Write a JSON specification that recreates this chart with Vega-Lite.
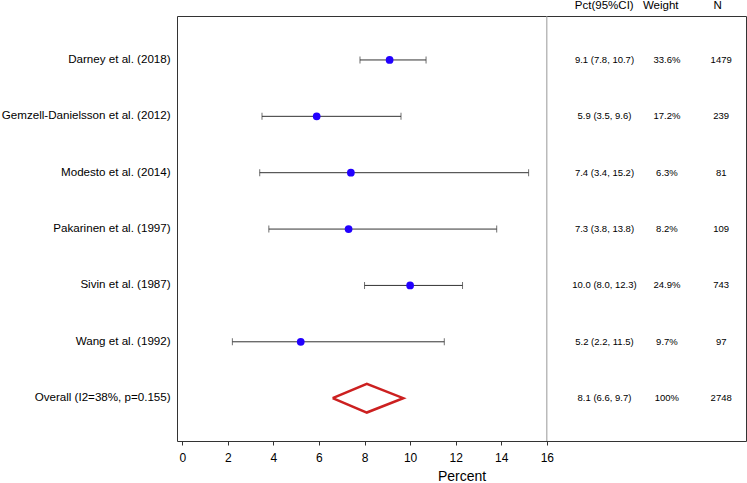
{
  "$schema": "https://vega.github.io/schema/vega-lite/v6.json",
  "width": 569,
  "height": 425,
  "autosize": {"type": "none"},
  "padding": {"left": 177, "top": 16, "right": 1, "bottom": 42},
  "background": "white",
  "config": {
    "font": "Liberation Sans",
    "view": {"stroke": "#333333", "strokeWidth": 1},
    "axisX": {
      "domain": false,
      "grid": false,
      "tickSize": 4,
      "tickColor": "#333333",
      "labelColor": "#000000",
      "labelFontSize": 12,
      "labelPadding": 7,
      "titleFontSize": 14,
      "titleFontWeight": "normal",
      "titleColor": "#000000",
      "titlePadding": 6
    }
  },
  "datasets": {
    "studies": [
      {"study": "Darney et al. (2018)", "row": 1, "est": 9.1, "lo": 7.8, "hi": 10.7, "pct": "9.1 (7.8, 10.7)", "weight": "33.6%", "n": "1479", "kind": "study"},
      {"study": "Gemzell-Danielsson et al. (2012)", "row": 2, "est": 5.9, "lo": 3.5, "hi": 9.6, "pct": "5.9 (3.5, 9.6)", "weight": "17.2%", "n": "239", "kind": "study"},
      {"study": "Modesto et al. (2014)", "row": 3, "est": 7.4, "lo": 3.4, "hi": 15.2, "pct": "7.4 (3.4, 15.2)", "weight": "6.3%", "n": "81", "kind": "study"},
      {"study": "Pakarinen et al. (1997)", "row": 4, "est": 7.3, "lo": 3.8, "hi": 13.8, "pct": "7.3 (3.8, 13.8)", "weight": "8.2%", "n": "109", "kind": "study"},
      {"study": "Sivin et al. (1987)", "row": 5, "est": 10.0, "lo": 8.0, "hi": 12.3, "pct": "10.0 (8.0, 12.3)", "weight": "24.9%", "n": "743", "kind": "study"},
      {"study": "Wang et al. (1992)", "row": 6, "est": 5.2, "lo": 2.2, "hi": 11.5, "pct": "5.2 (2.2, 11.5)", "weight": "9.7%", "n": "97", "kind": "study"},
      {"study": "Overall (I2=38%, p=0.155)", "row": 7, "est": 8.1, "lo": 6.6, "hi": 9.7, "pct": "8.1 (6.6, 9.7)", "weight": "100%", "n": "2748", "kind": "overall"}
    ],
    "diamond": [
      {"x": 6.6, "y": 7.0, "o": 1},
      {"x": 8.1, "y": 6.745, "o": 2},
      {"x": 9.7, "y": 7.0, "o": 3},
      {"x": 8.1, "y": 7.255, "o": 4},
      {"x": 6.6, "y": 7.0, "o": 5}
    ],
    "ref": [{"v": 16}],
    "headers": [
      {"h": "Pct(95%CI)", "col": "pct"},
      {"h": "Weight", "col": "weight"},
      {"h": "N", "col": "n"}
    ]
  },
  "layer": [
    {
      "data": {"name": "ref"},
      "mark": {"type": "rule", "color": "#999999", "strokeWidth": 1},
      "encoding": {
        "x": {"field": "v", "type": "quantitative", "title": "Percent", "axis": {"values": [0, 2, 4, 6, 8, 10, 12, 14, 16]}, "scale": {"domain": [-0.23, 24.74], "nice": false, "zero": false}}
      }
    },
    {
      "data": {"name": "studies"},
      "transform": [{"filter": "datum.kind === 'study'"}],
      "mark": {"type": "rule", "color": "#333333", "strokeWidth": 1},
      "encoding": {
        "x": {"field": "lo", "type": "quantitative", "title": "Percent", "axis": {"values": [0, 2, 4, 6, 8, 10, 12, 14, 16]}, "scale": {"domain": [-0.23, 24.74], "nice": false, "zero": false}},
        "x2": {"field": "hi"},
        "y": {"field": "row", "type": "quantitative", "axis": null, "scale": {"domain": [0.22, 7.76], "reverse": true, "nice": false, "zero": false}}
      }
    },
    {
      "data": {"name": "studies"},
      "transform": [{"filter": "datum.kind === 'study'"}],
      "mark": {"type": "tick", "orient": "vertical", "color": "#333333", "size": 7, "thickness": 1},
      "encoding": {
        "x": {"field": "lo", "type": "quantitative", "title": "Percent", "axis": {"values": [0, 2, 4, 6, 8, 10, 12, 14, 16]}, "scale": {"domain": [-0.23, 24.74], "nice": false, "zero": false}},
        "y": {"field": "row", "type": "quantitative", "axis": null, "scale": {"domain": [0.22, 7.76], "reverse": true, "nice": false, "zero": false}}
      }
    },
    {
      "data": {"name": "studies"},
      "transform": [{"filter": "datum.kind === 'study'"}],
      "mark": {"type": "tick", "orient": "vertical", "color": "#333333", "size": 7, "thickness": 1},
      "encoding": {
        "x": {"field": "hi", "type": "quantitative", "title": "Percent", "axis": {"values": [0, 2, 4, 6, 8, 10, 12, 14, 16]}, "scale": {"domain": [-0.23, 24.74], "nice": false, "zero": false}},
        "y": {"field": "row", "type": "quantitative", "axis": null, "scale": {"domain": [0.22, 7.76], "reverse": true, "nice": false, "zero": false}}
      }
    },
    {
      "data": {"name": "studies"},
      "transform": [{"filter": "datum.kind === 'study'"}],
      "mark": {"type": "circle", "color": "#2200ff", "opacity": 1, "size": 60},
      "encoding": {
        "x": {"field": "est", "type": "quantitative", "title": "Percent", "axis": {"values": [0, 2, 4, 6, 8, 10, 12, 14, 16]}, "scale": {"domain": [-0.23, 24.74], "nice": false, "zero": false}},
        "y": {"field": "row", "type": "quantitative", "axis": null, "scale": {"domain": [0.22, 7.76], "reverse": true, "nice": false, "zero": false}}
      }
    },
    {
      "data": {"name": "diamond"},
      "mark": {"type": "line", "color": "#cc2020", "strokeWidth": 2.5, "strokeJoin": "miter"},
      "encoding": {
        "x": {"field": "x", "type": "quantitative", "title": "Percent", "axis": {"values": [0, 2, 4, 6, 8, 10, 12, 14, 16]}, "scale": {"domain": [-0.23, 24.74], "nice": false, "zero": false}},
        "y": {"field": "y", "type": "quantitative", "axis": null, "scale": {"domain": [0.22, 7.76], "reverse": true, "nice": false, "zero": false}},
        "order": {"field": "o", "type": "quantitative"}
      }
    },
    {
      "data": {"name": "studies"},
      "mark": {"type": "text", "align": "right", "baseline": "middle", "fontSize": 11.6, "color": "#000000"},
      "encoding": {
        "x": {"datum": -0.51, "type": "quantitative", "title": "Percent", "axis": {"values": [0, 2, 4, 6, 8, 10, 12, 14, 16]}, "scale": {"domain": [-0.23, 24.74], "nice": false, "zero": false}},
        "y": {"field": "row", "type": "quantitative", "axis": null, "scale": {"domain": [0.22, 7.76], "reverse": true, "nice": false, "zero": false}},
        "text": {"field": "study"}
      }
    },
    {
      "data": {"name": "studies"},
      "mark": {"type": "text", "align": "center", "baseline": "middle", "fontSize": 9.5, "color": "#000000"},
      "encoding": {
        "x": {"datum": 18.53, "type": "quantitative", "title": "Percent", "axis": {"values": [0, 2, 4, 6, 8, 10, 12, 14, 16]}, "scale": {"domain": [-0.23, 24.74], "nice": false, "zero": false}},
        "y": {"field": "row", "type": "quantitative", "axis": null, "scale": {"domain": [0.22, 7.76], "reverse": true, "nice": false, "zero": false}},
        "text": {"field": "pct"}
      }
    },
    {
      "data": {"name": "studies"},
      "mark": {"type": "text", "align": "center", "baseline": "middle", "fontSize": 9.5, "color": "#000000"},
      "encoding": {
        "x": {"datum": 21.27, "type": "quantitative", "title": "Percent", "axis": {"values": [0, 2, 4, 6, 8, 10, 12, 14, 16]}, "scale": {"domain": [-0.23, 24.74], "nice": false, "zero": false}},
        "y": {"field": "row", "type": "quantitative", "axis": null, "scale": {"domain": [0.22, 7.76], "reverse": true, "nice": false, "zero": false}},
        "text": {"field": "weight"}
      }
    },
    {
      "data": {"name": "studies"},
      "mark": {"type": "text", "align": "center", "baseline": "middle", "fontSize": 9.5, "color": "#000000"},
      "encoding": {
        "x": {"datum": 23.65, "type": "quantitative", "title": "Percent", "axis": {"values": [0, 2, 4, 6, 8, 10, 12, 14, 16]}, "scale": {"domain": [-0.23, 24.74], "nice": false, "zero": false}},
        "y": {"field": "row", "type": "quantitative", "axis": null, "scale": {"domain": [0.22, 7.76], "reverse": true, "nice": false, "zero": false}},
        "text": {"field": "n"}
      }
    },
    {
      "data": {"name": "headers"},
      "transform": [{"filter": "datum.col === 'pct'"}],
      "mark": {"type": "text", "align": "center", "baseline": "middle", "fontSize": 11.5, "color": "#000000"},
      "encoding": {
        "x": {"datum": 18.52, "type": "quantitative", "title": "Percent", "axis": {"values": [0, 2, 4, 6, 8, 10, 12, 14, 16]}, "scale": {"domain": [-0.23, 24.74], "nice": false, "zero": false}},
        "y": {"datum": 0.05, "type": "quantitative", "axis": null, "scale": {"domain": [0.22, 7.76], "reverse": true, "nice": false, "zero": false}},
        "text": {"field": "h"}
      }
    },
    {
      "data": {"name": "headers"},
      "transform": [{"filter": "datum.col === 'weight'"}],
      "mark": {"type": "text", "align": "center", "baseline": "middle", "fontSize": 11.5, "color": "#000000"},
      "encoding": {
        "x": {"datum": 21.0, "type": "quantitative", "title": "Percent", "axis": {"values": [0, 2, 4, 6, 8, 10, 12, 14, 16]}, "scale": {"domain": [-0.23, 24.74], "nice": false, "zero": false}},
        "y": {"datum": 0.05, "type": "quantitative", "axis": null, "scale": {"domain": [0.22, 7.76], "reverse": true, "nice": false, "zero": false}},
        "text": {"field": "h"}
      }
    },
    {
      "data": {"name": "headers"},
      "transform": [{"filter": "datum.col === 'n'"}],
      "mark": {"type": "text", "align": "center", "baseline": "middle", "fontSize": 11.5, "color": "#000000"},
      "encoding": {
        "x": {"datum": 23.5, "type": "quantitative", "title": "Percent", "axis": {"values": [0, 2, 4, 6, 8, 10, 12, 14, 16]}, "scale": {"domain": [-0.23, 24.74], "nice": false, "zero": false}},
        "y": {"datum": 0.05, "type": "quantitative", "axis": null, "scale": {"domain": [0.22, 7.76], "reverse": true, "nice": false, "zero": false}},
        "text": {"field": "h"}
      }
    }
  ]
}
